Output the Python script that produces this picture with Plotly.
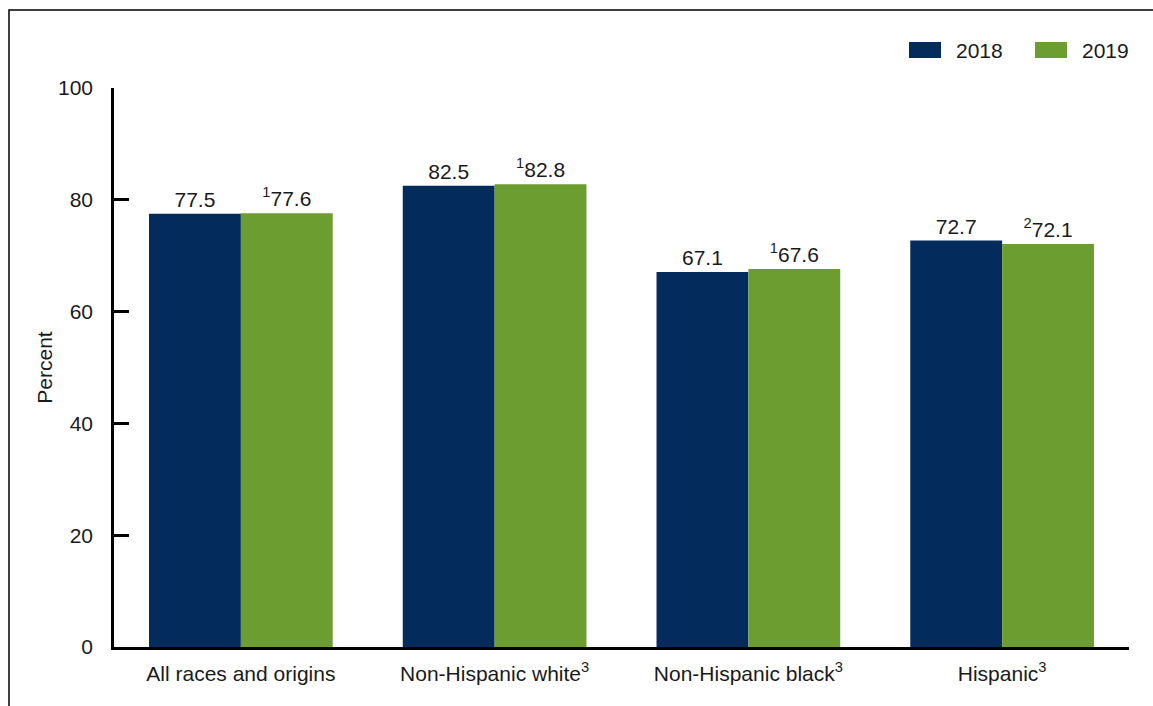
import plotly.graph_objects as go

categories = ["All races and origins", "Non-Hispanic white<sup>3</sup>",
              "Non-Hispanic black<sup>3</sup>", "Hispanic<sup>3</sup>"]
values_2018 = [77.5, 82.5, 67.1, 72.7]
values_2019 = [77.6, 82.8, 67.6, 72.1]
labels_2018 = ["77.5", "82.5", "67.1", "72.7"]
labels_2019 = ["<sup>1</sup>77.6", "<sup>1</sup>82.8", "<sup>1</sup>67.6", "<sup>2</sup>72.1"]
series_names = ["2018", "2019"]
colors = ["#032b5b", "#6c9d31"]

FONT = "Liberation Sans, Arial, sans-serif"
TXT = "#1a1a1a"
W, H = 1153, 706
L, R, T, B = 114, 24, 88, 59
pw, ph = W - L - R, H - T - B

def px(x):
    return (x - L) / pw

def py(y):
    return (H - B - y) / ph

fig = go.Figure()
for name, vals, labs, col in zip(series_names, [values_2018, values_2019],
                                 [labels_2018, labels_2019], colors):
    fig.add_trace(go.Bar(
        x=categories, y=vals, name=name, marker=dict(color=col, line=dict(width=0)),
        text=labs, textposition="outside", cliponaxis=False,
        textfont=dict(family=FONT, size=21, color=TXT),
        hoverinfo="x+y", showlegend=False,
    ))

shapes = [
    dict(type="rect", xref="paper", yref="paper", x0=px(9), x1=1.3, y0=-0.3, y1=py(10),
         line=dict(color="black", width=1.5), fillcolor="rgba(0,0,0,0)", layer="below"),
]
annotations = []
leg_x = [909, 1035]
for name, col, lx in zip(series_names, colors, leg_x):
    shapes.append(dict(type="rect", xref="paper", yref="paper",
                       x0=px(lx), x1=px(lx + 32), y0=py(58), y1=py(42),
                       line=dict(width=0), fillcolor=col))
    annotations.append(dict(xref="paper", yref="paper", x=px(lx + 45), y=py(50),
                            text=name, showarrow=False, xanchor="left", yanchor="middle",
                            font=dict(family=FONT, size=21, color=TXT)))

fig.update_layout(
    width=W, height=H,
    margin=dict(l=L, r=R, t=T, b=B, autoexpand=False),
    paper_bgcolor="white", plot_bgcolor="white",
    barmode="group", bargap=0.276, bargroupgap=0,
    font=dict(family=FONT, size=21, color=TXT),
    shapes=shapes, annotations=annotations,
    xaxis=dict(showline=True, linecolor="black", linewidth=2.5, ticks="",
               showgrid=False, ticklabelstandoff=6,
               tickfont=dict(family=FONT, size=21, color=TXT)),
    yaxis=dict(range=[0, 100], dtick=20, showline=True, linecolor="black", linewidth=2.5,
               ticks="inside", ticklen=15, tickwidth=2.5, tickcolor="black",
               showgrid=False, zeroline=False, ticklabelstandoff=14,
               tickfont=dict(family=FONT, size=21, color=TXT),
               title=dict(text="Percent", font=dict(family=FONT, size=21, color=TXT),
                          standoff=0)),
)
fig.write_html("out.html", config={"displayModeBar": False},
               post_script="document.body.style.margin='0';")
